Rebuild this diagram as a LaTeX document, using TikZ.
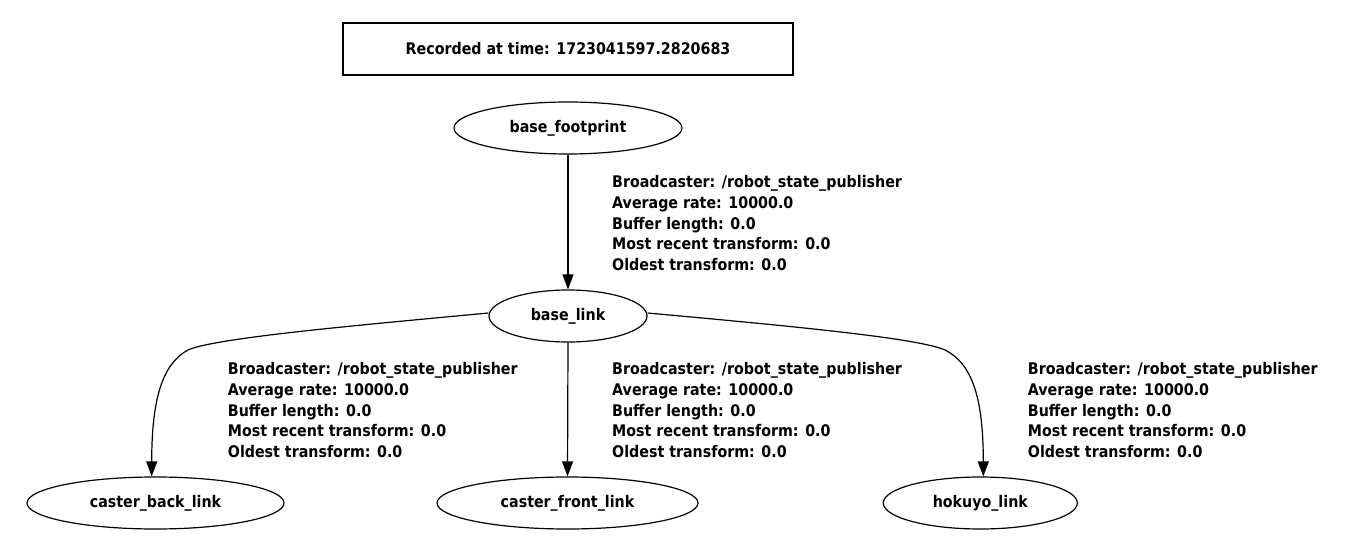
\documentclass[tikz,border=0pt]{standalone}
\usepackage{fontspec}
\newfontfamily\gvfont{DejaVu Sans}[FakeStretch=0.89]
\usetikzlibrary{shapes.geometric,arrows.meta}
\begin{document}
\begin{tikzpicture}[x=1pt,y=-1pt,
  gv/.style={font=\gvfont\bfseries\fontsize{16}{20.6}\selectfont},
  tfnode/.style={gv,draw,ellipse,line width=1.2pt,inner sep=0pt,minimum height=52pt},
  stamp/.style={gv,draw,rectangle,line width=1.2pt,inner sep=0pt,minimum width=450pt,minimum height=52pt},
  info/.style={gv,anchor=north west,inner sep=0pt,align=left},
  tfedge/.style={line width=1.2pt,-{Triangle[length=15pt,width=11pt]}}]
\useasboundingbox (0,0) rectangle (1370,553);
\node[stamp] (rec) at (568,49) {Recorded at time: 1723041597.2820683};
\node[tfnode,minimum width=228pt] (bf) at (568,128) {base\_footprint};
\node[tfnode,minimum width=158pt] (bl) at (568,316) {base\_link};
\node[tfnode,minimum width=257pt] (cb) at (155.5,503) {caster\_back\_link};
\node[tfnode,minimum width=261pt] (cf) at (567.5,503) {caster\_front\_link};
\node[tfnode,minimum width=194pt] (hk) at (980.3,503) {hokuyo\_link};
\coordinate (lbend) at (188,350);
\coordinate (rbend) at (945,350);
\draw[tfedge] (bf.south) -- (bl.north);
\draw[tfedge] (bl.south) -- (cf.north);
\draw[tfedge] ([yshift=3pt]bl.west) .. controls (350,326) and (215,338) .. (lbend)
  .. controls (162,364) and (151.7,400) .. ([xshift=-3.8pt]cb.north);
\draw[tfedge] ([yshift=3pt]bl.east) .. controls (790,326) and (918,338) .. (rbend)
  .. controls (973,364) and (983.3,400) .. ([xshift=3pt]hk.north);
\node[info] (l0) at (612,175.6) {Broadcaster: /robot\_state\_publisher\\Average rate: 10000.0\\Buffer length: 0.0\\Most recent transform: 0.0\\Oldest transform: 0.0};
\node[info] (l1) at (227.7,362.6) {Broadcaster: /robot\_state\_publisher\\Average rate: 10000.0\\Buffer length: 0.0\\Most recent transform: 0.0\\Oldest transform: 0.0};
\node[info] (l2) at (612,362.6) {Broadcaster: /robot\_state\_publisher\\Average rate: 10000.0\\Buffer length: 0.0\\Most recent transform: 0.0\\Oldest transform: 0.0};
\node[info] (l3) at (1027.7,362.6) {Broadcaster: /robot\_state\_publisher\\Average rate: 10000.0\\Buffer length: 0.0\\Most recent transform: 0.0\\Oldest transform: 0.0};
\end{tikzpicture}
\end{document}
